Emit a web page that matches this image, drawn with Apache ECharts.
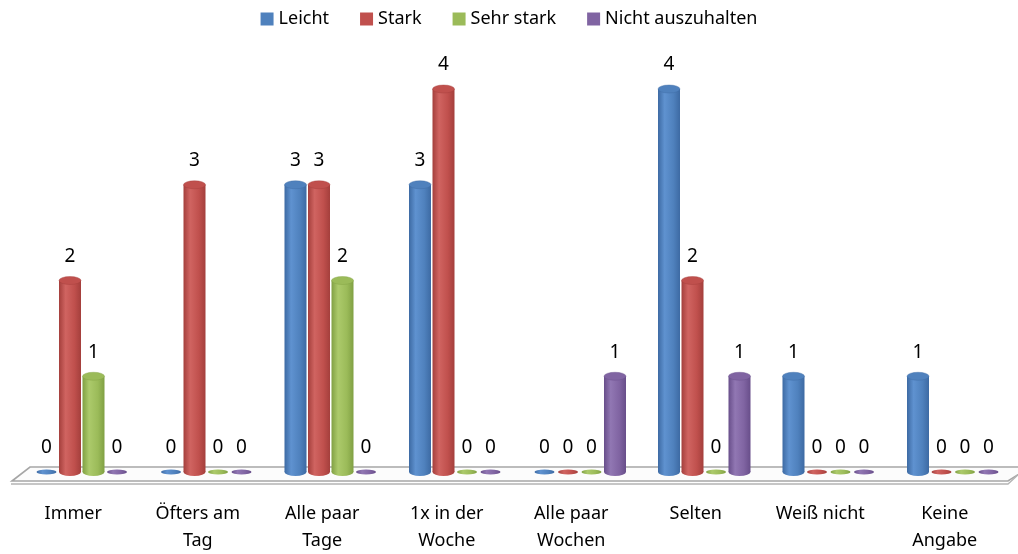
<!DOCTYPE html>
<html>
<head>
<meta charset="utf-8">
<script src="https://cdn.jsdelivr.net/npm/echarts@6/dist/echarts.min.js"></script>
<style>
  html, body { margin: 0; padding: 0; background: #fff; }
  #main { width: 1018px; height: 554px; }
</style>
</head>
<body>
<div id="main"></div>
<script type="text/javascript">
// Kategorien (x-Achse)
var categories = ['Immer', 'Öfters am\nTag', 'Alle paar\nTage', '1x in der\nWoche',
                  'Alle paar\nWochen', 'Selten', 'Weiß nicht', 'Keine\nAngabe'];
var seriesNames = ['Leicht', 'Stark', 'Sehr stark', 'Nicht auszuhalten'];

// Werte je Reihe
var leicht     = [0, 0, 3, 3, 0, 4, 1, 1];
var stark      = [2, 3, 3, 4, 0, 2, 0, 0];
var sehrStark  = [1, 0, 2, 0, 0, 0, 0, 0];
var nichtAus   = [0, 0, 0, 0, 1, 1, 0, 0];

var values = [leicht, stark, sehrStark, nichtAus];

// Farben: [basis, dunkel, hell]
var colors = [
  ['#4F81BD', '#3d6aa3', '#5f92d0'],
  ['#C0504D', '#a43f3c', '#d06461'],
  ['#9BBB59', '#80a043', '#acca6b'],
  ['#8064A2', '#684e8a', '#9177b3']
];

var FONT = '"Noto Sans", "Liberation Sans", sans-serif';
var barW = 22, step = 23.5, shift = 8.5, ry = 4;

function ellipse(cx, cy, rx, ryy, style) {
  return { type: 'circle', x: cx, y: cy, scaleY: ryy / rx, shape: { cx: 0, cy: 0, r: rx }, style: style };
}

function makeRender(si) {
  var c = colors[si];
  return function (params, api) {
    var cat = api.value(0), val = api.value(1);
    var base = api.coord([cat, 0]);
    var top = api.coord([cat, val]);
    var x = base[0] + shift + (si - 1.5) * step;
    var kids = [];
    var grad = new echarts.graphic.LinearGradient(0, 0, 1, 0, [
      { offset: 0, color: c[1] },
      { offset: 0.3, color: c[2] },
      { offset: 0.7, color: c[0] },
      { offset: 1, color: c[1] }
    ]);
    if (val > 0) {
      kids.push(ellipse(x, base[1], barW / 2, ry, { fill: grad }));
      kids.push({ type: 'rect', shape: { x: x - barW / 2, y: top[1], width: barW, height: base[1] - top[1] }, style: { fill: grad } });
      kids.push(ellipse(x, top[1], barW / 2, ry, { fill: c[0], stroke: c[1], lineWidth: 0.6 }));
    } else {
      kids.push(ellipse(x, base[1], barW / 2 - 1, 2.6, { fill: grad }));
    }
    kids.push({
      type: 'text', x: x, y: top[1] - 24,
      style: { text: String(val), font: '19px ' + FONT, fill: '#000', align: 'center', verticalAlign: 'middle' }
    });
    return { type: 'group', children: kids };
  };
}

var series = [];
for (var i = 0; i < values.length; i++) {
  var d = [];
  for (var j = 0; j < categories.length; j++) d.push([j, values[i][j]]);
  series.push({
    name: seriesNames[i],
    type: 'custom',
    renderItem: makeRender(i),
    itemStyle: { color: colors[i][0] },
    data: d,
    z: 5,
    animation: false
  });
}

var myChart = echarts.init(document.getElementById('main'));
var option = {
  animation: false,
  legend: {
    top: 5,
    left: 'center',
    icon: 'rect',
    itemWidth: 13,
    itemHeight: 13,
    itemGap: 31,
    textStyle: { fontFamily: FONT, fontSize: 18, color: '#000' },
    data: seriesNames
  },
  grid: { left: 11, right: 11, top: 89, bottom: 81 },
  xAxis: {
    type: 'category',
    data: categories,
    axisLine: { show: false },
    axisTick: { show: false },
    axisLabel: { margin: 28, fontFamily: FONT, fontSize: 18, lineHeight: 27, color: '#000', interval: 0 }
  },
  yAxis: {
    type: 'value', min: 0, max: 4, interval: 1, show: false
  },
  graphic: [
    {
      type: 'polygon', z: 1,
      shape: { points: [[12, 481], [30, 467], [1030, 467], [1008, 481]] },
      style: { fill: '#fcfcfc', stroke: '#a6a6a6', lineWidth: 1.6 }
    },
    {
      type: 'polyline', z: 1,
      shape: { points: [[11, 484], [1008, 484], [1020, 473]] },
      style: { stroke: '#b4b4b4', lineWidth: 1.4, fill: null }
    }
  ],
  series: series
};
myChart.setOption(option);
</script>
</body>
</html>
